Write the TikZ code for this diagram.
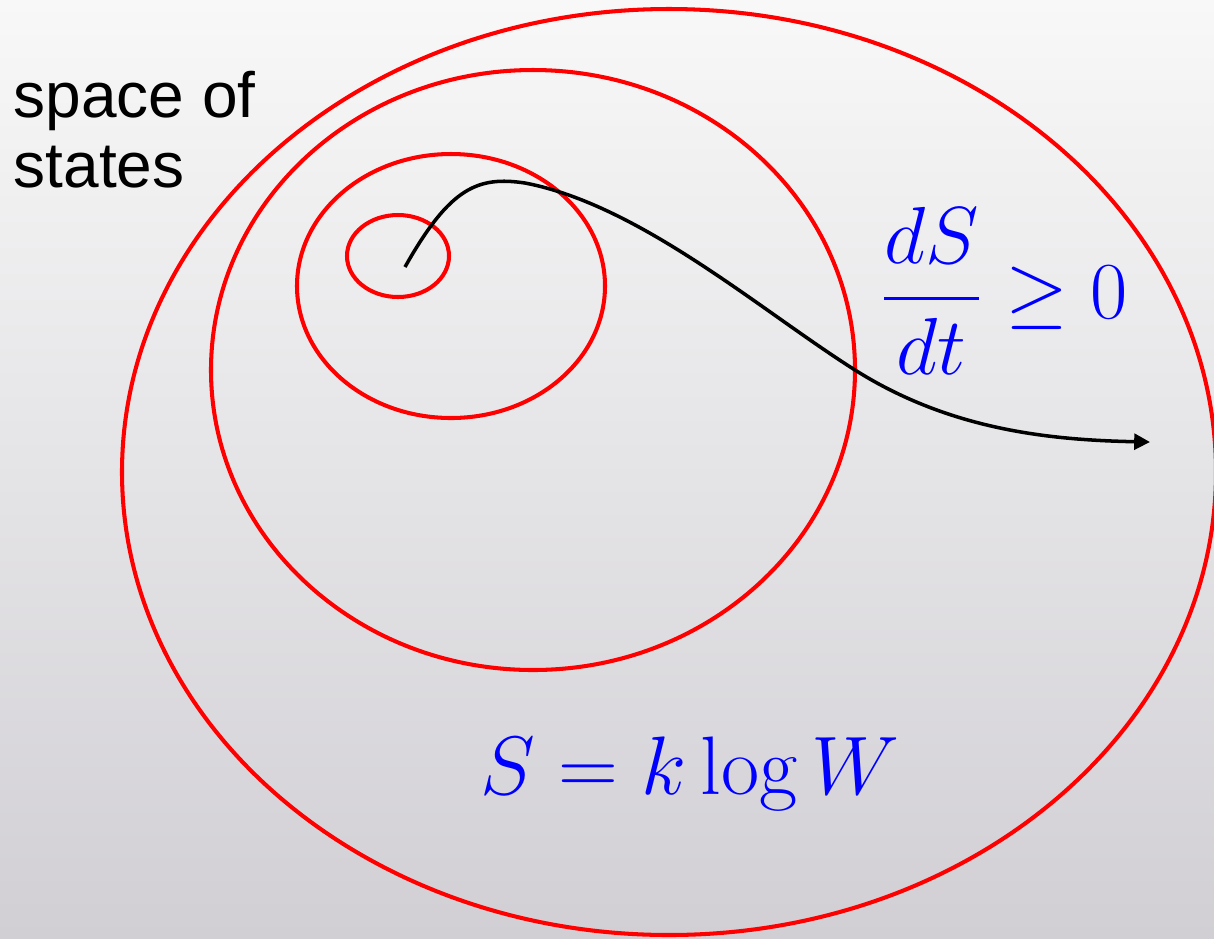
\RequirePackage{fix-cm}
\documentclass[tikz,border=0pt]{standalone}
\usepackage{exscale}
\usepackage{fontspec}
\newfontfamily\labelfont{Liberation Sans}
\usetikzlibrary{arrows.meta}
\definecolor{slidetop}{HTML}{F8F8F8}
\definecolor{slidebottom}{HTML}{D1CFD4}
\definecolor{shellred}{HTML}{FF0000}
\definecolor{formulablue}{HTML}{0000FF}

\begin{document}
\begin{tikzpicture}[x=0.01cm, y=-0.01cm, >={Triangle[length=4.5pt,width=4.5pt]}]
  \useasboundingbox (0,0) rectangle (1214,938);
  \shade[top color=slidetop, bottom color=slidebottom] (0,0) rectangle (1214,938);
  \clip (0,0) rectangle (1214,938);

  \foreach \cx/\cy/\rx/\ry in {398/256/51/41, 451/286/154/132, 533/370/322/300, 669/472/547/463} {
    \draw[shellred, line width=1.15pt] (\cx,\cy) ellipse [x radius=\rx, y radius=\ry];
  }

  \coordinate (start) at (405,267);
  \coordinate (peak) at (525,183);
  \coordinate (cross) at (855,370);
  \coordinate (tip) at (1150,442);
  \draw[->, line width=1pt] (start) .. controls (450,187) and (478,176) .. (peak)
    .. controls (640,205) and (760,310) .. (cross)
    .. controls (950,430) and (1050,440) .. (tip);

  \node[anchor=north west, inner sep=0pt, align=left, font=\labelfont\fontsize{18.2}{19.9}\selectfont] (space) at (13,70) {space of\\states};
  \node[formulablue, font=\fontsize{23}{28}\selectfont] (rate) at (1004,291) {$\displaystyle\frac{dS}{dt}\geq 0$};
  \node[formulablue, anchor=base, inner sep=0pt, font=\fontsize{23.6}{28}\selectfont] (entropy) at (690,794) {$S = k\log W$};
\end{tikzpicture}
\end{document}
